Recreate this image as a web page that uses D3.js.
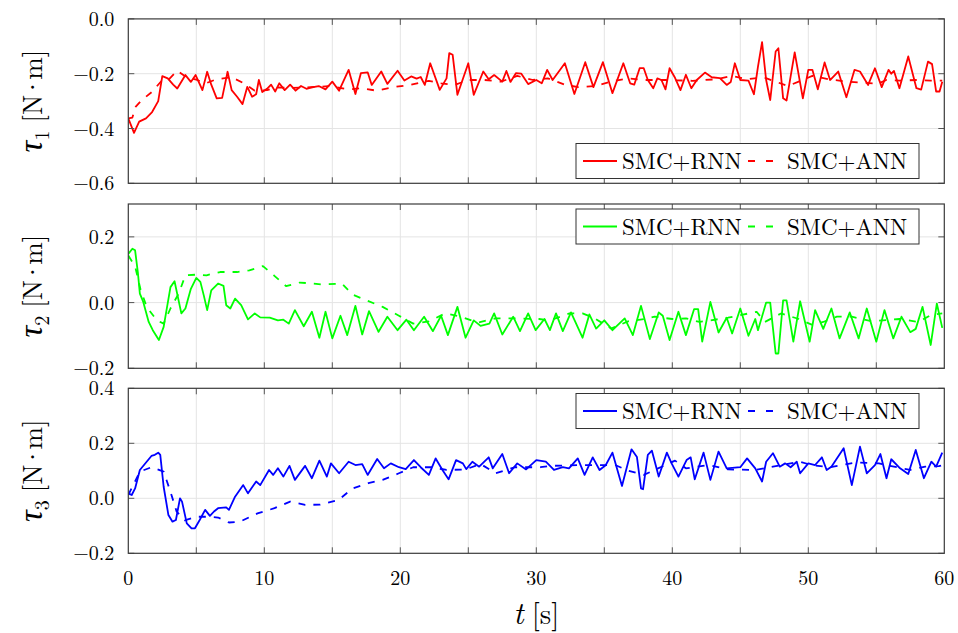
<!DOCTYPE html>
<meta charset="utf-8">
<style>
body {
    margin: 0;
    background: white;
}

text {
    font-family: "Latin Modern Roman", "CMU Serif", "Liberation Serif", serif;
    fill: #000;
}

.grid line {
    stroke: #e4e4e4;
    stroke-width: 1;
}

.frame {
    fill: none;
    stroke: #3a3a3a;
    stroke-width: 1.2;
}

.tick-mark {
    stroke: #555;
    stroke-width: 1;
}

.series {
    fill: none;
    stroke-width: 1.8;
    stroke-linejoin: round;
}

.legend-box {
    fill: white;
    stroke: #333;
    stroke-width: 1;
}
</style>

<body>
    <script src="https://d3js.org/d3.v7.min.js"></script>
    <script>
    // time [s], torque [N.m]
    var tau1Rnn = [[0,-0.363],[0.42,-0.416],[0.8,-0.375],[1.3,-0.363],[1.75,-0.34],[2.2,-0.30],[2.5,-0.209],[2.9,-0.217],[3.3,-0.24],[3.6,-0.254],[4.2,-0.205],[4.6,-0.23],[4.95,-0.205],[5.45,-0.26],[5.8,-0.193],[6.1,-0.24],[6.5,-0.29],[6.9,-0.288],[7.3,-0.193],[7.6,-0.26],[8.0,-0.284],[8.4,-0.311],[8.75,-0.248],[9.1,-0.284],[9.4,-0.275],[9.6,-0.223],[9.85,-0.267],[10.2,-0.255],[10.5,-0.24],[10.8,-0.265],[11.1,-0.235],[11.5,-0.26],[11.9,-0.24],[12.3,-0.262],[12.7,-0.245],[13.1,-0.255],[13.5,-0.25],[14,-0.245],[14.5,-0.257],[15,-0.229],[15.5,-0.262],[16.2,-0.186],[16.7,-0.274],[17.1,-0.198],[17.6,-0.195],[17.9,-0.241],[18.2,-0.22],[18.6,-0.192],[19.05,-0.237],[19.8,-0.189],[20.3,-0.225],[20.8,-0.21],[21.2,-0.218],[21.5,-0.212],[21.8,-0.241],[22.2,-0.162],[22.9,-0.259],[23.4,-0.217],[23.6,-0.125],[23.85,-0.131],[24.2,-0.277],[25,-0.162],[25.4,-0.277],[26.1,-0.192],[26.5,-0.22],[26.9,-0.205],[27.5,-0.229],[27.8,-0.19],[28.1,-0.23],[28.5,-0.198],[28.9,-0.2],[29.4,-0.238],[30,-0.223],[30.4,-0.235],[30.8,-0.186],[31.2,-0.223],[32.1,-0.162],[32.8,-0.274],[33.6,-0.158],[34.2,-0.249],[34.9,-0.158],[35.6,-0.271],[36.4,-0.162],[36.9,-0.235],[37.2,-0.24],[37.6,-0.18],[37.9,-0.18],[38.2,-0.223],[38.6,-0.253],[38.9,-0.217],[39.2,-0.223],[39.5,-0.257],[39.8,-0.18],[40.2,-0.215],[40.6,-0.26],[41,-0.204],[41.4,-0.253],[41.8,-0.223],[42.4,-0.196],[42.9,-0.213],[43.5,-0.216],[44,-0.241],[44.3,-0.23],[44.6,-0.162],[45,-0.223],[45.6,-0.225],[46,-0.275],[46.3,-0.174],[46.6,-0.085],[46.9,-0.223],[47.2,-0.296],[47.6,-0.119],[47.8,-0.107],[48.15,-0.29],[48.4,-0.298],[49,-0.122],[49.6,-0.29],[50,-0.186],[50.3,-0.186],[50.7,-0.257],[51.2,-0.159],[51.6,-0.223],[52.2,-0.192],[52.8,-0.286],[53.4,-0.186],[53.8,-0.192],[54.4,-0.241],[54.9,-0.18],[55.4,-0.249],[55.9,-0.186],[56.1,-0.2],[56.3,-0.19],[56.7,-0.253],[57.35,-0.137],[57.95,-0.253],[58.3,-0.258],[58.8,-0.156],[59.1,-0.165],[59.4,-0.265],[59.65,-0.265],[59.85,-0.229]];
    var tau1Ann = [[0,-0.363],[0.3,-0.36],[0.55,-0.32],[1.0,-0.296],[1.75,-0.266],[2.5,-0.223],[3.0,-0.22],[3.6,-0.189],[4.2,-0.21],[5.0,-0.222],[5.7,-0.235],[6.5,-0.22],[7.6,-0.213],[8.5,-0.235],[9.3,-0.262],[10.2,-0.26],[11,-0.25],[12,-0.252],[13,-0.25],[14,-0.248],[14.7,-0.245],[16.2,-0.257],[17.2,-0.253],[18.25,-0.262],[19.5,-0.249],[20.7,-0.241],[22.1,-0.226],[23,-0.235],[24,-0.241],[25,-0.223],[26.2,-0.223],[27.4,-0.229],[28.6,-0.208],[29.75,-0.223],[30.85,-0.217],[32.15,-0.241],[33.1,-0.249],[34.35,-0.245],[35.5,-0.229],[36.75,-0.217],[37.9,-0.223],[39.5,-0.223],[41.5,-0.226],[43.3,-0.22],[44.4,-0.208],[45.5,-0.22],[46.7,-0.213],[48.5,-0.245],[50.3,-0.208],[51.5,-0.22],[52.8,-0.229],[53.85,-0.232],[55.1,-0.237],[55.75,-0.223],[56.7,-0.225],[58,-0.223],[59,-0.225],[59.85,-0.225]];

    var tau2Rnn = [[0,0.148],[0.3,0.164],[0.5,0.159],[0.7,0.093],[0.85,0.027],[1.1,0.002],[1.5,-0.059],[1.8,-0.084],[2.25,-0.114],[2.6,-0.074],[3.1,0.047],[3.4,0.065],[3.9,-0.033],[4.2,-0.018],[4.6,0.042],[5.0,0.075],[5.3,0.063],[5.55,0.022],[5.8,-0.023],[6.1,0.037],[6.6,0.058],[7.0,0.051],[7.2,-0.008],[7.5,-0.018],[7.85,0.012],[8.3,-0.008],[8.8,-0.051],[9.3,-0.033],[9.7,-0.045],[10.4,-0.046],[11,-0.054],[11.4,-0.052],[11.8,-0.064],[12.25,-0.023],[12.9,-0.072],[13.5,-0.028],[14.05,-0.107],[14.5,-0.028],[15,-0.109],[15.6,-0.04],[16.1,-0.099],[16.7,-0.01],[17.2,-0.097],[17.7,-0.026],[18.4,-0.089],[19.05,-0.043],[19.8,-0.084],[20.45,-0.052],[21,-0.084],[21.75,-0.043],[22.4,-0.087],[23,-0.04],[23.5,-0.099],[24.2,-0.013],[24.8,-0.107],[25.4,-0.054],[25.9,-0.071],[26.55,-0.064],[26.9,-0.033],[27.5,-0.097],[28.3,-0.043],[28.8,-0.087],[29.4,-0.033],[29.95,-0.084],[30.6,-0.05],[31,-0.084],[31.45,-0.033],[31.95,-0.087],[32.55,-0.03],[33.4,-0.107],[33.9,-0.036],[34.4,-0.079],[35,-0.054],[35.6,-0.084],[36.5,-0.048],[37.1,-0.099],[37.7,-0.01],[38.35,-0.111],[39,-0.03],[39.3,-0.04],[39.8,-0.114],[40.45,-0.028],[41,-0.099],[41.6,-0.02],[41.9,-0.02],[42.2,-0.119],[42.8,0.002],[43.4,-0.091],[44,-0.046],[44.4,-0.094],[45,-0.018],[45.6,-0.101],[46.1,-0.05],[46.3,-0.084],[46.9,0],[47.2,0],[47.6,-0.155],[47.8,-0.155],[48.15,0.007],[48.4,0.007],[48.9,-0.119],[49.4,0.004],[50.1,-0.119],[50.5,-0.023],[51.1,-0.08],[51.7,-0.018],[52.3,-0.109],[53.05,-0.03],[53.7,-0.109],[54.3,-0.018],[55,-0.119],[55.6,-0.023],[56.25,-0.109],[56.85,-0.043],[57.5,-0.09],[57.9,-0.08],[58.4,-0.013],[59,-0.129],[59.45,-0.003],[59.85,-0.077]];
    var tau2Ann = [[0,0.143],[0.5,0.11],[0.9,0.04],[1.35,-0.013],[2.1,-0.054],[2.6,-0.064],[3.1,-0.018],[3.7,0.027],[4.2,0.083],[5.0,0.085],[5.75,0.083],[6.75,0.093],[8,0.093],[8.9,0.098],[9.9,0.111],[10.7,0.083],[11.6,0.05],[12.6,0.061],[13.6,0.058],[14.3,0.055],[15.7,0.058],[16.5,0.024],[17.5,0.007],[18.7,-0.013],[19.9,-0.04],[20.95,-0.064],[22.1,-0.057],[23.3,-0.033],[24.45,-0.043],[25.7,-0.061],[27,-0.048],[28.45,-0.048],[30.2,-0.05],[31,-0.054],[32.45,-0.033],[33.4,-0.033],[34.3,-0.048],[35.5,-0.079],[36.75,-0.057],[38,-0.05],[38.7,-0.043],[40,-0.05],[41,-0.048],[42,-0.059],[42.8,-0.054],[44.1,-0.046],[46.2,-0.028],[46.8,-0.059],[48,-0.033],[49.3,-0.05],[50.25,-0.067],[51.1,-0.059],[52.1,-0.043],[53.2,-0.043],[54.65,-0.057],[56.7,-0.05],[58.1,-0.059],[59,-0.038],[59.85,-0.033]];

    var tau3Rnn = [[0,0.018],[0.25,0.012],[0.5,0.036],[0.85,0.103],[1.35,0.133],[1.7,0.154],[1.95,0.158],[2.2,0.166],[2.35,0.158],[2.6,0.042],[2.95,-0.061],[3.25,-0.085],[3.5,-0.079],[3.8,0],[3.95,-0.012],[4.3,-0.091],[4.65,-0.109],[4.9,-0.109],[5.25,-0.079],[5.65,-0.042],[6.0,-0.064],[6.3,-0.048],[6.6,-0.036],[7.2,-0.033],[7.4,-0.042],[7.85,0.006],[8.45,0.048],[8.8,0.018],[9.4,0.061],[9.7,0.048],[10.35,0.103],[10.65,0.085],[11.0,0.109],[11.4,0.079],[11.85,0.118],[12.25,0.067],[13,0.118],[13.5,0.073],[14.05,0.137],[14.6,0.079],[14.9,0.127],[15.5,0.091],[16.2,0.133],[16.7,0.121],[17.2,0.124],[17.6,0.085],[18.3,0.143],[18.8,0.109],[19.3,0.127],[19.9,0.113],[20.4,0.106],[21,0.139],[21.5,0.113],[22.1,0.085],[22.6,0.145],[23.1,0.103],[23.55,0.069],[24.1,0.139],[24.6,0.127],[24.85,0.106],[25.3,0.133],[25.8,0.115],[26.5,0.149],[26.8,0.109],[27.5,0.161],[28,0.091],[28.6,0.127],[29.25,0.105],[30,0.139],[30.7,0.133],[31.3,0.103],[31.95,0.113],[32.4,0.109],[33.05,0.145],[33.55,0.085],[34.15,0.149],[34.65,0.103],[35.1,0.12],[35.6,0.166],[36.3,0.045],[37,0.178],[37.4,0.15],[37.7,0.036],[37.85,0.033],[38.2,0.158],[38.5,0.173],[39,0.079],[39.6,0.166],[39.95,0.127],[40.45,0.079],[41.05,0.139],[41.35,0.149],[41.65,0.069],[42.3,0.166],[42.8,0.067],[43.4,0.17],[44,0.109],[45,0.113],[45.5,0.145],[46.1,0.109],[46.6,0.061],[46.9,0.133],[47.4,0.164],[47.9,0.115],[48.3,0.127],[48.7,0.113],[49.15,0.133],[49.4,0.091],[50,0.127],[50.5,0.121],[51,0.149],[51.35,0.103],[51.7,0.115],[52.6,0.182],[53.2,0.048],[53.8,0.188],[54.3,0.091],[54.9,0.121],[55.3,0.161],[55.75,0.073],[56.1,0.142],[56.75,0.109],[57.35,0.088],[57.9,0.176],[58.5,0.073],[59.05,0.133],[59.4,0.115],[59.85,0.166]];
    var tau3Ann = [[0,0.012],[0.85,0.097],[1.7,0.113],[2.6,0.097],[3.1,0.024],[3.55,-0.048],[4.15,-0.08],[5.0,-0.067],[5.9,-0.067],[6.6,-0.07],[7.4,-0.088],[8.2,-0.085],[9.5,-0.055],[10.75,-0.036],[11.9,-0.012],[13,-0.024],[14.1,-0.023],[15.45,-0.006],[16.5,0.036],[17.65,0.055],[18.7,0.067],[19.9,0.091],[20.95,0.113],[22.3,0.113],[23.4,0.103],[24.8,0.105],[25.9,0.125],[27,0.091],[28.45,0.113],[30.3,0.113],[31.1,0.118],[33.5,0.121],[35.8,0.121],[36.8,0.1],[37.9,0.085],[40.2,0.137],[41,0.109],[42.7,0.121],[44.1,0.105],[46.1,0.103],[47.4,0.115],[49.4,0.133],[50.3,0.12],[51.6,0.113],[53.5,0.13],[55.2,0.127],[56.3,0.115],[57.5,0.103],[58.6,0.115],[59.6,0.117],[59.85,0.12]];

    var xTicks = [0, 10, 20, 30, 40, 50, 60];
    var xGrid = [5, 10, 15, 20, 25, 30, 35, 40, 45, 50, 55];
    var yDomains = [[-0.6, 0], [-0.2, 0.3], [-0.2, 0.4]];
    var yTicks = [[-0.6, -0.4, -0.2, 0], [-0.2, 0, 0.2], [-0.2, 0, 0.2, 0.4]];
    var colors = ["#ff0000", "#00ff00", "#0000ff"];
    var subscripts = ["1", "2", "3"];
    var legendLabels = ["SMC+RNN", "SMC+ANN"];

    // panel boxes in page pixels
    var left = 128.3, right = 944.3;
    var panelTops = [18.9, 204, 388.3];
    var panelBottoms = [183.3, 368.3, 553.3];
    var legendTops = [143.5, 209, 393.5];

    var panels = [
        { rnn: tau1Rnn, ann: tau1Ann },
        { rnn: tau2Rnn, ann: tau2Ann },
        { rnn: tau3Rnn, ann: tau3Ann }
    ];

    var svg = d3.select("body")
        .append("svg")
        .attr("width", 958)
        .attr("height", 633);

    var x = d3.scaleLinear().domain([0, 60]).range([left, right]);
    var fmt = d3.format(".1f");

    panels.forEach(function(p, i) {
        var top = panelTops[i], bottom = panelBottoms[i];
        var y = d3.scaleLinear().domain(yDomains[i]).range([bottom, top]);
        var g = svg.append("g");

        // clip to plot area
        g.append("clipPath")
            .attr("id", "clip" + i)
            .append("rect")
            .attr("x", left).attr("y", top)
            .attr("width", right - left).attr("height", bottom - top);

        // grid
        var grid = g.append("g").attr("class", "grid");
        grid.selectAll(".gx")
            .data(xGrid)
            .enter().append("line")
            .attr("x1", function(d) { return x(d); })
            .attr("x2", function(d) { return x(d); })
            .attr("y1", top).attr("y2", bottom);
        grid.selectAll(".gy")
            .data(yTicks[i].filter(function(d) { return y(d) > top + 1 && y(d) < bottom - 1; }))
            .enter().append("line")
            .attr("x1", left).attr("x2", right)
            .attr("y1", function(d) { return y(d); })
            .attr("y2", function(d) { return y(d); });

        // series
        var line = d3.line()
            .x(function(d) { return x(d[0]); })
            .y(function(d) { return y(d[1]); });

        var lines = g.append("g").attr("clip-path", "url(#clip" + i + ")");
        lines.append("path")
            .datum(p.ann)
            .attr("class", "series")
            .attr("stroke", colors[i])
            .attr("stroke-dasharray", "7,8")
            .attr("d", line);
        lines.append("path")
            .datum(p.rnn)
            .attr("class", "series")
            .attr("stroke", colors[i])
            .attr("d", line);

        // inward tick marks on all four sides
        var ticks = g.append("g");
        xGrid.forEach(function(d) {
            ticks.append("line").attr("class", "tick-mark")
                .attr("x1", x(d)).attr("x2", x(d)).attr("y1", bottom).attr("y2", bottom - 6);
            ticks.append("line").attr("class", "tick-mark")
                .attr("x1", x(d)).attr("x2", x(d)).attr("y1", top).attr("y2", top + 6);
        });
        yTicks[i].forEach(function(d) {
            ticks.append("line").attr("class", "tick-mark")
                .attr("x1", left).attr("x2", left + 6).attr("y1", y(d)).attr("y2", y(d));
            ticks.append("line").attr("class", "tick-mark")
                .attr("x1", right).attr("x2", right - 6).attr("y1", y(d)).attr("y2", y(d));
        });

        g.append("rect")
            .attr("class", "frame")
            .attr("x", left).attr("y", top)
            .attr("width", right - left).attr("height", bottom - top);

        // y tick labels
        g.selectAll(".ylab")
            .data(yTicks[i])
            .enter().append("text")
            .attr("x", left - 14)
            .attr("y", function(d) { return y(d); })
            .attr("dy", "0.35em")
            .attr("text-anchor", "end")
            .style("font-size", "20px")
            .text(function(d) { return fmt(d); });

        // y axis title
        var cy = (top + bottom) / 2;
        var title = g.append("text")
            .attr("transform", "translate(42," + cy + ") rotate(-90)")
            .attr("text-anchor", "middle");
        title.append("tspan")
            .style("font-style", "italic")
            .style("font-size", "33px")
            .text("τ");
        title.append("tspan")
            .style("font-size", "20px")
            .attr("dy", "7")
            .text(subscripts[i]);
        title.append("tspan")
            .style("font-size", "27px")
            .attr("dy", "-7")
            .attr("dx", "8")
            .text("[N");
        title.append("tspan")
            .style("font-size", "27px")
            .attr("dx", "-3")
            .text("·");
        title.append("tspan")
            .style("font-size", "27px")
            .attr("dx", "-3")
            .text("m]");

        // legend
        var lt = legendTops[i];
        var leg = g.append("g");
        leg.append("rect")
            .attr("class", "legend-box")
            .attr("x", 576).attr("y", lt)
            .attr("width", 343).attr("height", 35);
        leg.append("line")
            .attr("x1", 583).attr("x2", 617)
            .attr("y1", lt + 17.5).attr("y2", lt + 17.5)
            .attr("stroke", colors[i]).attr("stroke-width", 1.8);
        leg.append("line")
            .attr("x1", 748).attr("x2", 775)
            .attr("y1", lt + 17.5).attr("y2", lt + 17.5)
            .attr("stroke", colors[i]).attr("stroke-width", 1.8)
            .attr("stroke-dasharray", "7,11");
        leg.append("text")
            .attr("x", 622).attr("y", lt + 25.5)
            .style("font-size", "23px")
            .text(legendLabels[0]);
        leg.append("text")
            .attr("x", 787).attr("y", lt + 25.5)
            .style("font-size", "23px")
            .text(legendLabels[1]);
    });

    // x tick labels under last panel
    svg.selectAll(".xlab")
        .data(xTicks)
        .enter().append("text")
        .attr("x", function(d) { return x(d); })
        .attr("y", 585)
        .attr("text-anchor", "middle")
        .style("font-size", "20px")
        .text(function(d) { return d; });

    var xt = svg.append("text")
        .attr("x", (left + right) / 2)
        .attr("y", 624)
        .attr("text-anchor", "middle");
    xt.append("tspan").style("font-style", "italic").style("font-size", "31px").text("t");
    xt.append("tspan").style("font-size", "29px").attr("dx", "8").text("[s]");
    </script>
</body>
